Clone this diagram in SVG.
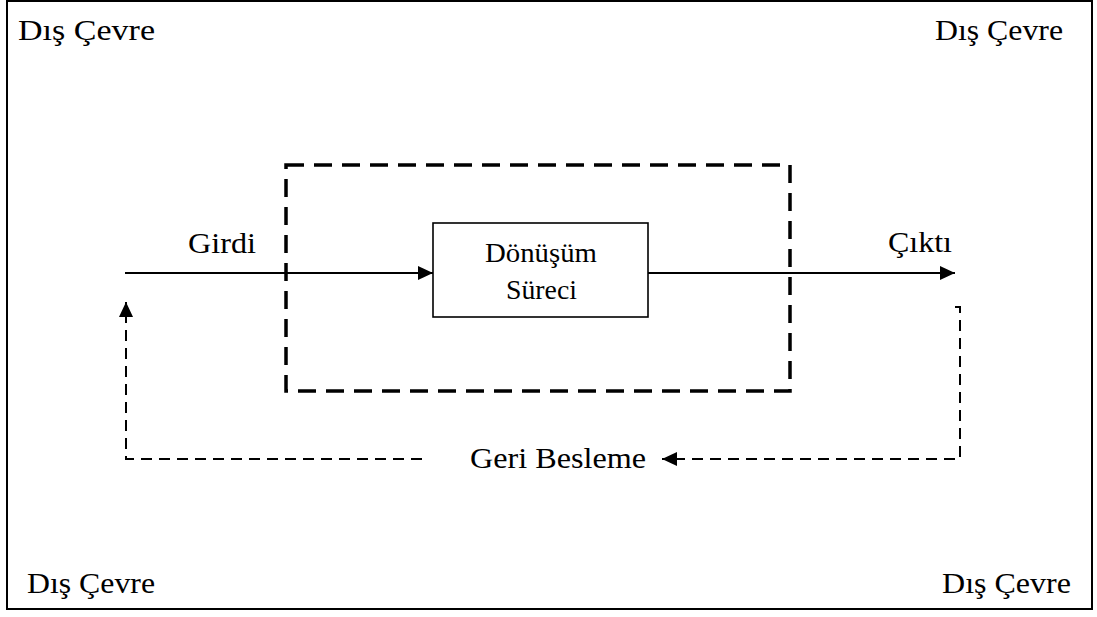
<svg xmlns="http://www.w3.org/2000/svg" width="1097" height="617" viewBox="0 0 1097 617">
  <style>
    .lbl { font-family: "Liberation Serif", "Times New Roman", serif; font-size: 30px; fill: #000; }
    .inner { font-size: 27px; }
    .box { fill: #fff; stroke: #000; stroke-width: 1.6; }
    .flow { fill: none; stroke: #000; stroke-width: 2; }
    .fb { fill: none; stroke: #000; stroke-width: 2; stroke-dasharray: 11 7; }
    .sys { fill: none; stroke: #000; stroke-width: 3.5; stroke-dasharray: 18 10; }
  </style>
  <defs>
    <marker id="arrow" viewBox="0 0 15 14" refX="15" refY="7" markerWidth="15" markerHeight="14" markerUnits="userSpaceOnUse" orient="auto">
      <path d="M0,0 L15,7 L0,14 Z" fill="#000"/>
    </marker>
  </defs>

  <!-- outer environment frame -->
  <rect x="7" y="1" width="1085" height="608" fill="#fff" stroke="#000" stroke-width="2"/>

  <!-- environment labels -->
  <g id="env-top-left"><text class="lbl" x="18" y="40" textLength="137" lengthAdjust="spacingAndGlyphs">Dış Çevre</text></g>
  <g id="env-top-right"><text class="lbl" x="935" y="40" textLength="128" lengthAdjust="spacingAndGlyphs">Dış Çevre</text></g>
  <g id="env-bottom-left"><text class="lbl" x="27" y="593" textLength="128" lengthAdjust="spacingAndGlyphs">Dış Çevre</text></g>
  <g id="env-bottom-right"><text class="lbl" x="942" y="593" textLength="129" lengthAdjust="spacingAndGlyphs">Dış Çevre</text></g>

  <!-- system boundary -->
  <g id="system">
    <rect class="sys" x="286" y="165" width="504" height="226"/>
  </g>

  <!-- connectors -->
  <g id="connectors">
    <line class="flow" x1="125" y1="273" x2="433" y2="273" marker-end="url(#arrow)"/>
    <line class="flow" x1="648" y1="273" x2="955" y2="273" marker-end="url(#arrow)"/>
    <polyline class="fb" points="955,307 960,307 960,459 662,459" marker-end="url(#arrow)"/>
    <polyline class="fb" points="422,459 126,459 126,302" marker-end="url(#arrow)"/>
  </g>

  <!-- transformation process -->
  <g id="process">
    <rect class="box" x="433" y="223" width="215" height="94"/>
    <text class="lbl inner" x="485" y="262" textLength="112" lengthAdjust="spacingAndGlyphs">Dönüşüm</text>
    <text class="lbl inner" x="506" y="299" textLength="71" lengthAdjust="spacingAndGlyphs">Süreci</text>
  </g>

  <g id="input-label"><text class="lbl" x="188" y="253" textLength="68" lengthAdjust="spacingAndGlyphs">Girdi</text></g>
  <g id="output-label"><text class="lbl" x="888" y="252" textLength="64" lengthAdjust="spacingAndGlyphs">Çıktı</text></g>
  <g id="feedback-label"><text class="lbl" x="470" y="468" textLength="176" lengthAdjust="spacingAndGlyphs">Geri Besleme</text></g>
</svg>
